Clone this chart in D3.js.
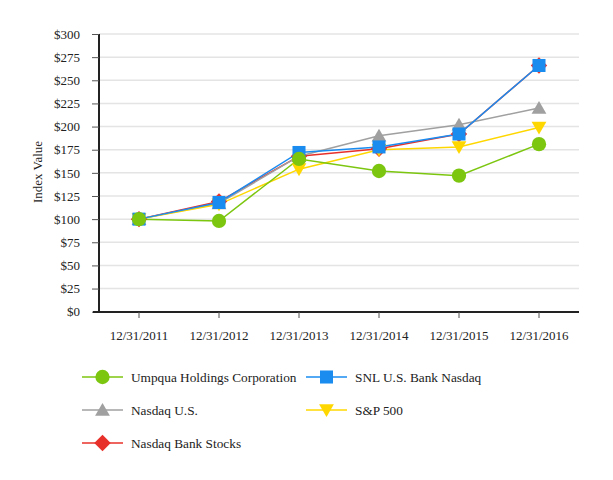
<!DOCTYPE html>
<html><head><meta charset="utf-8">
<script src="https://cdn.jsdelivr.net/npm/d3@7"></script>
<style>body{margin:0;background:#fff}svg{display:block}text{font-family:"Liberation Serif","Times New Roman",serif;fill:#222}</style>
</head><body><svg id="c" width="613" height="480"></svg>
<script>
const categories = ["12/31/2011","12/31/2012","12/31/2013","12/31/2014","12/31/2015","12/31/2016"];
const yTicks = [0,25,50,75,100,125,150,175,200,225,250,275,300];
const nasdaqBank = [100,119,168,176,192,266];
const nasdaqUS = [100,117,168,190,202,220];
const sp500 = [100,116,154,175,178,199];
const snlBank = [100,118,172,178,192,266];
const umpqua = [100,98,165,152,147,181];

const seriesNames = ["Umpqua Holdings Corporation","SNL U.S. Bank Nasdaq","Nasdaq U.S.","S&P 500","Nasdaq Bank Stocks"];
const series = [
  {name:seriesNames[4], values:nasdaqBank, color:"#e8302a", sym:d3.symbolSquare, size:135, rot:45, dy:0},
  {name:seriesNames[2], values:nasdaqUS, color:"#a0a0a0", sym:d3.symbolTriangle, size:95, rot:0, dy:1.5},
  {name:seriesNames[3], values:sp500, color:"#ffd700", sym:d3.symbolTriangle, size:95, rot:180, dy:-1.5},
  {name:seriesNames[1], values:snlBank, color:"#1a8cf0", sym:d3.symbolSquare, size:170, rot:0, dy:0},
  {name:seriesNames[0], values:umpqua, color:"#7cc610", sym:d3.symbolCircle, size:160, rot:0, dy:0}
];

const svg = d3.select("#c");
const x = d3.scaleBand().domain(categories).range([99,579]);
const y = d3.scaleLinear().domain([0,300]).range([311.7,34]);
const FS = 13;

svg.append("g").selectAll("line").data(yTicks.slice(1)).join("line")
  .attr("x1",99).attr("x2",579).attr("y1",d=>y(d)).attr("y2",d=>y(d))
  .attr("stroke","#e4e4e4").attr("stroke-width",1.5);

const ya = svg.append("g").attr("transform","translate(99,0)")
  .call(d3.axisLeft(y).tickValues(yTicks).tickFormat(d=>"$"+d).tickSize(7).tickPadding(12));
ya.attr("font-family",null).attr("font-size",null);
ya.select(".domain").attr("stroke","#222").attr("stroke-width",2).attr("d","M0,34V312");
ya.selectAll(".tick line").attr("stroke","#555");
ya.selectAll("text").attr("font-size",FS).attr("fill","#222");

const xa = svg.append("g").attr("transform","translate(0,312)")
  .call(d3.axisBottom(x).tickSize(6).tickPadding(13));
xa.attr("font-family",null).attr("font-size",null);
xa.select(".domain").attr("stroke","#222").attr("stroke-width",2).attr("d","M93,0H579");
xa.selectAll(".tick line").attr("stroke","#555");
xa.selectAll("text").attr("font-size",FS).attr("fill","#222");

svg.append("text").attr("transform","translate(42,172) rotate(-90)").attr("text-anchor","middle")
  .attr("font-size",FS).text("Index Value");

const cx = d => x(d) + x.bandwidth()/2;
const line = d3.line().x((d,i)=>cx(categories[i])).y(d=>y(d));

series.forEach(s=>{
  svg.append("path").attr("d",line(s.values)).attr("fill","none").attr("stroke",s.color).attr("stroke-width",1.5);
});
series.forEach(s=>{
  svg.append("g").selectAll("path").data(s.values).join("path")
    .attr("d",d3.symbol().type(s.sym).size(s.size))
    .attr("transform",(d,i)=>`translate(${cx(categories[i])},${y(d)+s.dy}) rotate(${s.rot})`)
    .attr("fill",s.color);
});

const legendItems = [
  {s:series[4], lx:82, ly:377},
  {s:series[3], lx:306, ly:377},
  {s:series[1], lx:82, ly:410},
  {s:series[2], lx:306, ly:410},
  {s:series[0], lx:82, ly:443}
];
const lg = svg.append("g");
legendItems.forEach(it=>{
  const g = lg.append("g").attr("transform",`translate(${it.lx},${it.ly})`);
  g.append("line").attr("x1",0).attr("x2",41).attr("stroke",it.s.color).attr("stroke-width",1.5);
  g.append("path").attr("d",d3.symbol().type(it.s.sym).size(it.s.size))
    .attr("transform",`translate(20.5,${it.s.dy}) rotate(${it.s.rot})`).attr("fill",it.s.color);
  g.append("text").attr("x",49).attr("y",4.5).attr("font-size",13.3).text(it.s.name);
});
</script></body></html>
